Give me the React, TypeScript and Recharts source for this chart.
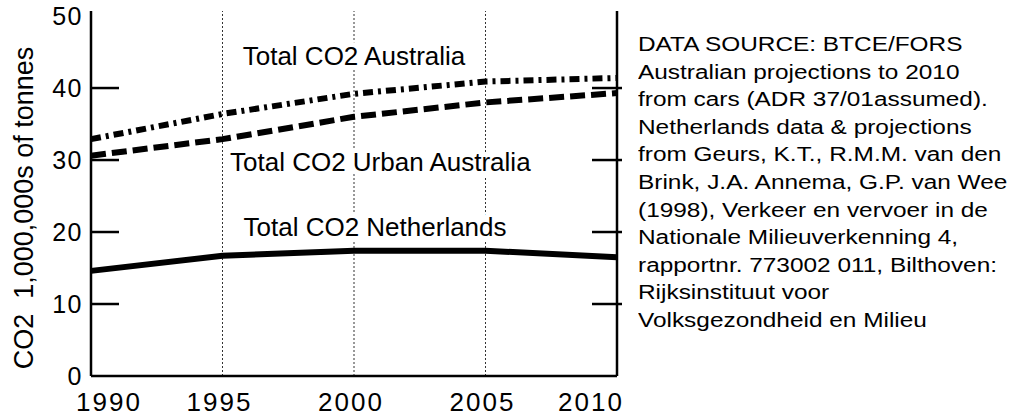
import React from 'react';
import {
  LineChart,
  Line,
  XAxis,
  YAxis,
  ReferenceLine,
  ReferenceDot
} from 'recharts';

const years = [1990, 1995, 2000, 2005, 2010];
const totalAustralia = [32.9, 36.4, 39.2, 40.9, 41.4];
const urbanAustralia = [30.6, 32.9, 36.0, 38.0, 39.3];
const netherlands = [14.6, 16.7, 17.4, 17.4, 16.5];

const yTicks = [0, 10, 20, 30, 40, 50];
const sideTicks = [10, 20, 30, 40];
const gridYears = [1995, 2000, 2005];

const annotationText = ['Total CO2 Australia', 'Total CO2 Urban Australia', 'Total CO2 Netherlands'];
const annotationYear = [2000, 2001, 2000.8];
const annotationValue = [44.4, 29.7, 20.7];

const yLabel = 'CO2  1,000,000s of tonnes';

const sourceLines = [
  'DATA SOURCE: BTCE/FORS',
  'Australian projections to 2010',
  'from cars (ADR 37/01assumed).',
  'Netherlands data & projections',
  'from Geurs, K.T., R.M.M. van den',
  'Brink, J.A. Annema, G.P. van Wee',
  '(1998), Verkeer en vervoer in de',
  'Nationale Milieuverkenning 4,',
  'rapportnr. 773002 011, Bilthoven:',
  'Rijksinstituut voor',
  'Volksgezondheid en Milieu'
];

const FONT = '"Liberation Sans", Arial, Helvetica, sans-serif';
const DOMAIN: [number, number] = [0, 50.7];
const AXIS_LINE = { stroke: '#000', strokeWidth: 2.5 };

const chartData = years.map((year, i) => ({
  year,
  australia: totalAustralia[i],
  urban: urbanAustralia[i],
  netherlands: netherlands[i]
}));

const LeftTick = ({ x, y, payload }: any) => (
  <text
    x={x - 8}
    y={y}
    dy={9}
    textAnchor="end"
    fontSize={25}
    fontFamily={FONT}
    letterSpacing={1.5}
    fill="#000"
  >
    {payload.value}
  </text>
);

const YearTick = ({ x, y, payload, index }: any) => {
  const shift = index === 0 ? 18 : index === years.length - 1 ? -26 : -3;
  return (
    <text
      x={x + shift}
      y={y + 35}
      textAnchor="middle"
      fontSize={26}
      fontFamily={FONT}
      letterSpacing={2}
      fill="#000"
    >
      {payload.value}
    </text>
  );
};

// short tick marks: inward on the left border, crossing the right border
const TickMarks = (props: any) => {
  const x1 = Number(props.x1);
  const x2 = Number(props.x2);
  const y = Number(props.y1);
  return (
    <g>
      <line x1={x1} x2={x1 + 28} y1={y} y2={y} stroke="#000" strokeWidth={2.5} />
      <line x1={x2 - 25} x2={x2 + 5} y1={y} y2={y} stroke="#000" strokeWidth={2.5} />
    </g>
  );
};

const AxisTitle = () => (
  <text
    x={33}
    y={208}
    transform="rotate(-90, 33, 208)"
    textAnchor="middle"
    fontSize={27}
    fontFamily={FONT}
    fill="#000"
    style={{ whiteSpace: 'pre' }}
  >
    {yLabel}
  </text>
);

const Annotation = (text: string) => ({ cx, cy }: any) => (
  <text
    x={cx}
    y={cy}
    dy={9}
    textAnchor="middle"
    fontSize={26}
    fontFamily={FONT}
    fill="#000"
    stroke="#fff"
    strokeWidth={10}
    paintOrder="stroke"
    strokeLinejoin="round"
  >
    {text}
  </text>
);

const App: React.FC = () => {
  return (
    <div
      style={{
        position: 'absolute',
        left: 0,
        top: 0,
        width: 1010,
        height: 417,
        background: '#fff',
        fontFamily: FONT
      }}
    >
      <LineChart
        width={1010}
        height={417}
        data={chartData}
        margin={{ top: 11, right: 0, bottom: 0, left: 0 }}
      >
        <XAxis
          dataKey="year"
          type="number"
          domain={[1990, 2010]}
          ticks={years}
          height={41}
          axisLine={AXIS_LINE}
          tickLine={false}
          tickSize={0}
          tickMargin={0}
          tick={<YearTick />}
          interval={0}
        />
        <XAxis
          xAxisId="top"
          orientation="top"
          dataKey="year"
          type="number"
          domain={[1990, 2010]}
          height={0}
          axisLine={AXIS_LINE}
          tickLine={false}
          tick={false}
        />
        <YAxis
          type="number"
          domain={DOMAIN}
          ticks={yTicks}
          width={91}
          axisLine={AXIS_LINE}
          tickLine={false}
          tickSize={0}
          tickMargin={0}
          tick={<LeftTick />}
          interval={0}
          label={<AxisTitle />}
        />
        <YAxis
          yAxisId="right"
          orientation="right"
          type="number"
          domain={DOMAIN}
          width={393}
          axisLine={AXIS_LINE}
          tickLine={false}
          tick={false}
        />
        {gridYears.map((yr) => (
          <ReferenceLine
            key={yr}
            x={yr}
            stroke="#333"
            strokeWidth={1}
            strokeDasharray="2 2"
          />
        ))}
        {sideTicks.map((v) => (
          <ReferenceLine key={'t' + v} y={v} shape={<TickMarks />} />
        ))}
        <Line
          dataKey="australia"
          type="linear"
          stroke="#000"
          strokeWidth={6}
          strokeDasharray="10 5 3 5"
          dot={false}
          isAnimationActive={false}
        />
        <Line
          dataKey="urban"
          type="linear"
          stroke="#000"
          strokeWidth={6}
          strokeDasharray="15 6"
          dot={false}
          isAnimationActive={false}
        />
        <Line
          dataKey="netherlands"
          type="linear"
          stroke="#000"
          strokeWidth={6}
          dot={false}
          isAnimationActive={false}
        />
        {annotationText.map((t, i) => (
          <ReferenceDot
            key={t}
            x={annotationYear[i]}
            y={annotationValue[i]}
            r={0}
            shape={Annotation(t)}
          />
        ))}
      </LineChart>
      <div
        style={{
          position: 'absolute',
          left: 638,
          top: 31,
          fontSize: 20,
          lineHeight: '27.6px',
          color: '#000',
          whiteSpace: 'nowrap',
          transform: 'scaleX(1.22)',
          transformOrigin: 'left top'
        }}
      >
        {sourceLines.map((line) => (
          <div key={line}>{line}</div>
        ))}
      </div>
    </div>
  );
};

export default App;
